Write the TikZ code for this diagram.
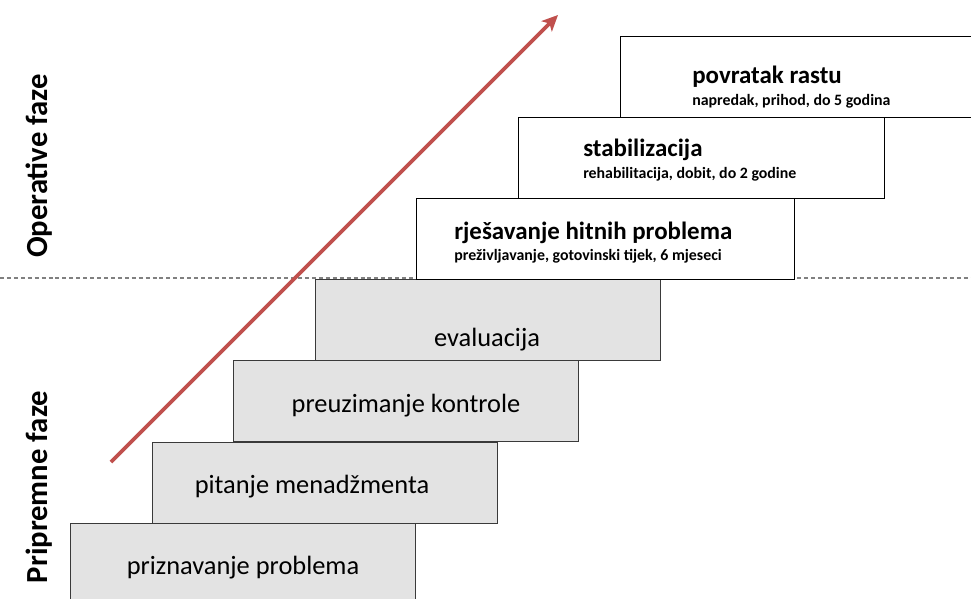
\documentclass[tikz,border=0pt]{standalone}
\usepackage{fontspec}
\setmainfont{Carlito}
\usetikzlibrary{arrows.meta}
\definecolor{arrowred}{HTML}{C0504D}
\definecolor{boxgray}{HTML}{E3E3E3}
\definecolor{boxline}{HTML}{3A3A3A}
\begin{document}
\begin{tikzpicture}[x=0.75pt,y=-0.75pt,
  graybox/.style={draw=boxline, fill=boxgray, line width=1pt, anchor=north west, inner sep=0pt, minimum width=258.75pt, minimum height=60.75pt},
  whitebox/.style={draw=black, fill=white, line width=1pt, anchor=north west, inner sep=0pt, minimum height=60.75pt},
  graytext/.style={anchor=base, inner sep=0pt, font=\fontsize{19.8}{24}\selectfont},
  titletext/.style={anchor=base west, inner sep=0pt, align=left, font=\bfseries\fontsize{18.7}{23}\selectfont},
  subtext/.style={anchor=base west, inner sep=0pt, font=\bfseries\fontsize{11.9}{14}\selectfont},
  sidelabel/.style={anchor=base, rotate=90, inner sep=0pt, font=\bfseries\fontsize{23}{27}\selectfont},
  phasearrow/.style={draw=arrowred, line width=2.8pt, -{Stealth[length=12pt,width=11pt,inset=3pt]}},
  divider/.style={draw=black!50, line width=0.8pt, dash pattern=on 3pt off 2.2pt}
]
\useasboundingbox (0,0) rectangle (971,599);
\begin{scope}
\clip (0,0) rectangle (971,599);
% dashed divider
\coordinate (dl) at (0,278);
\coordinate (dr) at (971,278);
\draw[divider] (dl) -- (dr);
% preparatory phases (gray)
\node[graybox] (p1) at (70,523) {};
\node[graybox] (p2) at (152,442) {};
\node[graybox] (p3) at (233,360) {};
\node[graybox] (p4) at (315,279) {};
\node[graytext] (t1) at (243,574) {priznavanje problema};
\node[graytext] (t2) at (312,493) {pitanje menadžmenta};
\node[graytext] (t3) at (406,412) {preuzimanje kontrole};
\node[graytext] (t4) at (487,346) {evaluacija};
% operative phases (white)
\node[whitebox, minimum width=283.5pt] (o1) at (416,198) {};
\node[whitebox, minimum width=274.5pt] (o2) at (518,117) {};
\node[whitebox, minimum width=273.75pt] (o3) at (620,36) {};
\node[titletext] (h1) at (454,239) {rješavanje hitnih problema};
\node[subtext] (s1) at (454,260) {preživljavanje, gotovinski tijek, 6 mjeseci};
\node[titletext] (h2) at (583,157) {stabilizacija};
\node[subtext] (s2) at (583,179) {rehabilitacija, dobit, do 2 godine};
\node[titletext] (h3) at (692,84) {povratak rastu};
\node[subtext] (s3) at (692,106) {napredak, prihod, do 5 godina};
% side labels
\node[sidelabel] (l1) at (47,166) {Operative faze};
\node[sidelabel] (l2) at (47,487) {Pripremne faze};
% arrow
\coordinate (a0) at (111,462);
\coordinate (a1) at (558,15);
\draw[phasearrow] (a0) -- (a1);
\end{scope}
\end{tikzpicture}
\end{document}
